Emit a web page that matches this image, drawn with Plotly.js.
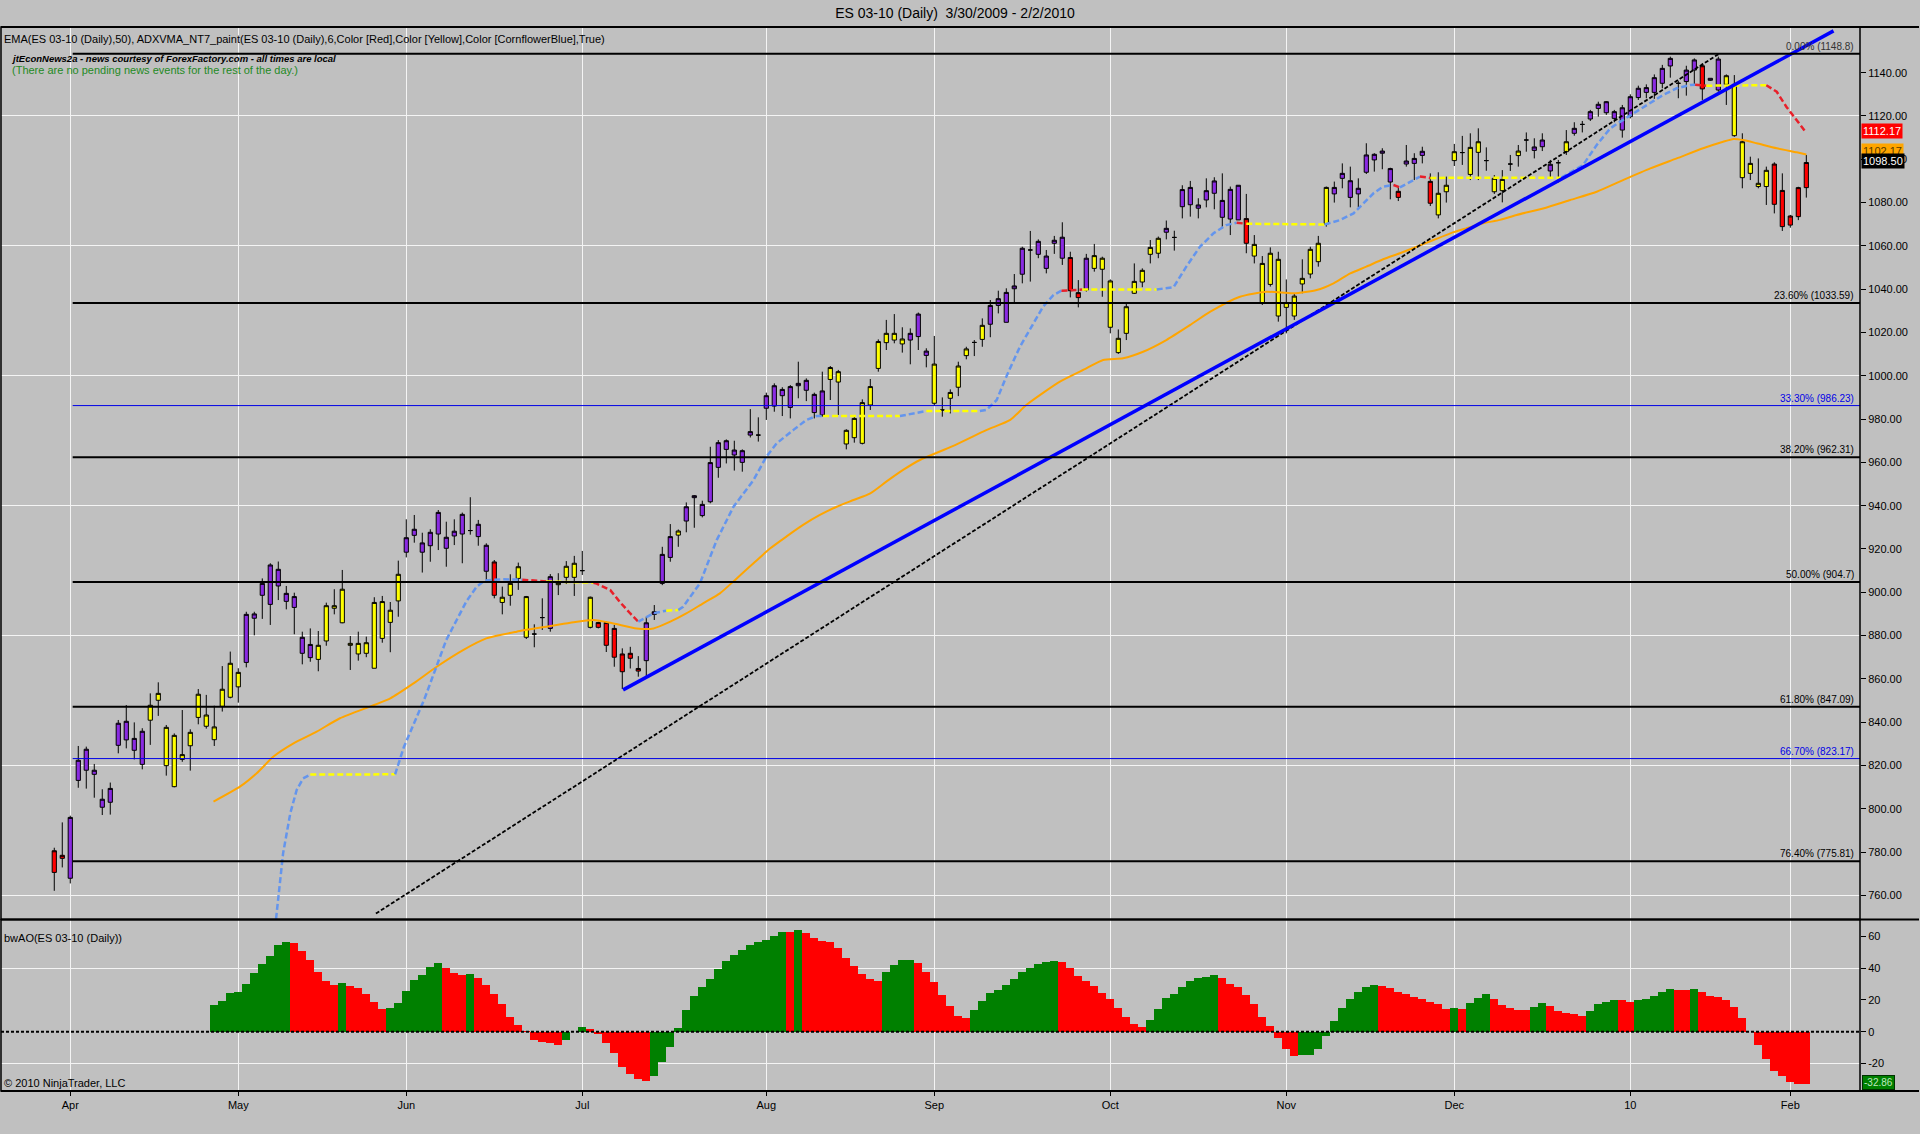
<!DOCTYPE html>
<html><head><meta charset="utf-8">
<script src="https://cdn.plot.ly/plotly-3.0.1.min.js"></script>
<style>html,body{margin:0;padding:0;background:#c0c0c0;}#chart{width:1920px;height:1134px;}</style>
</head><body><div id="chart"></div>
<script>
// ---------- DATA ----------
// bar index 0 = 3/30/2009 ... 219 = last bar
const HIGH = [
782.0,793.7,796.8,829.0,828.7,820.7,809.0,812.1,841.0,847.9,
839.9,837.2,853.3,858.4,838.7,834.8,845.6,836.7,855.3,852.6,
847.6,865.9,872.6,864.9,891.0,891.0,906.4,913.4,914.2,902.9,
899.8,881.8,883.3,882.1,895.2,901.4,910.3,879.8,881.8,879.5,
897.7,898.3,895.5,914.6,933.7,935.7,927.5,929.1,938.0,932.6,
933.7,936.8,943.9,933.4,922.6,914.9,902.6,908.3,913.7,898.3,
885.2,897.2,908.4,908.8,914.4,916.8,919.1,898.0,886.4,886.4,
884.9,874.1,874.8,870.5,888.7,894.1,921.0,931.5,929.0,941.5,
944.9,942.3,967.2,970.3,970.6,970.0,966.0,984.6,980.8,992.2,
996.5,994.7,995.7,1006.5,998.8,992.2,1001.9,1004.5,1002.7,975.3,
981.1,989.1,998.5,1016.8,1025.8,1028.5,1022.4,1021.9,1029.2,1012.7,
1018.4,990.0,993.7,1006.5,1013.4,1016.5,1026.5,1035.0,1039.3,1040.4,
1047.0,1059.6,1066.9,1063.0,1058.1,1064.6,1070.9,1057.3,1044.2,1056.3,
1060.9,1055.0,1044.5,1021.4,1033.2,1051.9,1049.6,1062.7,1064.3,1071.7,
1067.0,1088.0,1090.0,1082.0,1091.2,1091.7,1093.5,1087.4,1088.1,1084.0,
1065.0,1055.3,1059.3,1057.3,1044.5,1038.1,1053.8,1059.6,1064.6,1087.4,
1089.7,1098.1,1096.6,1091.2,1107.4,1102.8,1105.1,1096.1,1087.4,1106.6,
1102.8,1105.8,1093.5,1094.0,1092.0,1107.1,1110.8,1112.0,1114.3,1105.5,
1092.7,1095.0,1102.0,1106.6,1112.4,1109.7,1112.0,1099.7,1099.7,1113.5,
1117.1,1117.7,1122.8,1126.6,1126.9,1122.8,1125.1,1130.0,1134.0,1134.6,
1139.2,1143.6,1147.4,1136.2,1143.2,1146.6,1144.3,1137.4,1147.4,1139.2,
1138.9,1112.0,1101.2,1100.4,1096.6,1098.6,1093.5,1074.3,1087.3,1102.0];
const LOW = [
762.1,772.9,765.5,809.7,809.3,805.1,797.1,797.3,825.6,827.9,
822.8,818.2,829.5,842.9,815.3,809.9,821.7,817.6,839.0,837.0,
829.0,844.9,851.0,849.0,865.3,880.1,887.7,884.9,896.4,892.1,
880.6,866.7,867.9,863.5,875.3,889.8,885.7,864.1,868.4,870.0,
864.9,876.7,872.3,888.7,916.1,922.9,909.1,914.1,919.5,911.8,
921.8,913.4,926.6,921.5,905.4,897.2,889.8,893.8,901.1,878.4,
874.6,882.6,881.8,898.7,903.8,898.3,908.0,883.3,883.3,872.4,
865.6,855.3,864.8,861.0,861.0,887.2,903.3,914.1,921.0,927.7,
929.8,934.6,941.1,952.9,959.5,956.2,955.7,971.5,969.6,979.6,
983.4,981.4,980.3,989.6,988.3,980.3,981.1,988.8,981.9,966.0,
969.1,968.3,984.2,1001.9,1011.9,1015.0,1010.7,1005.3,1011.9,1003.9,
986.2,981.1,982.6,990.6,1007.6,1009.1,1013.4,1017.8,1028.8,1024.7,
1033.5,1042.7,1043.5,1054.3,1047.3,1056.3,1051.2,1036.2,1031.6,1038.9,
1048.1,1036.5,1019.6,1010.1,1016.5,1037.8,1040.9,1051.9,1054.3,1063.0,
1057.8,1072.7,1073.5,1072.7,1077.8,1076.9,1068.1,1065.0,1072.0,1056.6,
1051.9,1032.7,1041.2,1025.0,1019.6,1025.8,1038.1,1045.0,1050.4,1068.9,
1080.0,1086.6,1077.8,1077.8,1093.2,1094.3,1095.4,1081.5,1080.7,1096.6,
1090.4,1098.1,1078.4,1072.7,1080.0,1096.9,1097.4,1090.4,1090.4,1094.7,
1084.0,1080.1,1094.6,1096.6,1103.5,1100.4,1103.8,1091.2,1089.3,1102.0,
1110.9,1112.4,1117.7,1119.7,1120.5,1117.1,1110.0,1118.9,1127.4,1128.2,
1127.9,1132.8,1137.7,1128.2,1129.4,1134.3,1127.4,1136.2,1131.2,1125.1,
1110.4,1086.6,1090.4,1086.6,1078.9,1075.0,1066.9,1068.4,1071.9,1082.3];
// candle bodies: upper and lower edge (direction is not visible, bodies are painted by trend)
const BODY_HI = [
780.6,778.5,796.0,822.4,827.5,817.8,804.4,809.4,839.5,840.4,
832.5,835.8,847.8,853.3,837.6,833.9,825.0,835.3,852.9,843.3,
837.8,855.2,867.2,863.0,889.8,890.0,904.1,912.6,910.6,899.5,
898.0,879.2,875.9,875.5,893.8,893.8,901.4,876.4,876.4,876.7,
895.3,895.7,891.7,908.3,925.2,929.1,922.8,927.7,936.9,925.4,
928.2,936.0,928.5,931.4,921.7,914.0,897.7,904.1,911.8,898.0,
880.7,888.3,907.2,904.3,912.0,913.4,910.0,897.7,886.0,886.0,
883.3,871.5,871.8,864.8,885.9,891.0,917.5,925.7,928.3,939.5,
944.6,940.6,959.9,969.1,970.0,965.7,965.4,974.2,972.6,990.8,
995.4,993.7,995.0,996.5,997.9,991.4,993.0,1003.8,1001.9,974.8,
980.3,987.6,995.0,1015.8,1019.6,1019.6,1017.0,1019.6,1028.5,1011.4,
1005.4,984.2,992.3,1004.5,1012.4,1015.4,1023.3,1032.5,1035.6,1038.5,
1041.5,1058.9,1058.1,1062.1,1055.3,1062.6,1064.0,1054.6,1038.4,1054.3,
1055.5,1054.3,1043.8,1017.3,1031.9,1043.6,1048.7,1059.3,1063.5,1068.1,
1063.9,1086.0,1087.0,1078.9,1085.5,1090.0,1081.0,1086.1,1088.0,1072.6,
1060.7,1051.9,1056.6,1053.8,1033.8,1036.8,1045.0,1058.4,1061.2,1087.0,
1087.0,1093.5,1090.1,1086.6,1102.0,1102.3,1103.8,1095.7,1085.2,1099.2,
1100.4,1103.7,1089.8,1084.3,1088.0,1103.5,1103.1,1105.5,1108.1,1099.4,
1091.2,1090.7,1097.8,1103.8,1108.9,1105.7,1108.9,1097.7,1098.4,1108.1,
1114.3,1116.1,1122.0,1125.4,1126.6,1122.0,1123.8,1128.9,1132.8,1133.1,
1137.7,1142.0,1146.6,1135.1,1141.2,1145.9,1143.2,1137.4,1146.3,1138.6,
1134.6,1108.1,1098.1,1088.9,1094.9,1097.8,1085.6,1073.8,1086.9,1098.5];
const BODY_LO = [
770.6,777.1,767.9,813.1,817.8,815.9,800.7,803.0,829.3,831.8,
827.0,820.5,840.9,850.1,819.9,810.2,822.8,829.1,842.2,838.1,
831.9,847.3,851.5,856.3,867.6,888.0,898.6,894.4,902.9,895.8,
893.0,871.8,869.8,869.0,877.5,892.6,885.9,875.5,871.5,871.8,
864.9,878.7,886.1,896.0,918.5,926.3,918.5,921.5,926.9,920.3,
926.0,926.9,928.5,925.7,909.7,898.6,895.3,898.6,906.4,879.2,
880.7,888.3,883.3,903.5,906.9,906.9,910.0,883.8,883.8,875.5,
870.0,863.3,869.5,863.6,868.4,889.8,904.1,916.1,926.4,932.9,
943.7,935.4,941.8,957.7,966.0,963.4,960.0,972.6,972.6,985.0,
986.0,990.8,985.4,995.4,993.3,983.0,981.9,998.3,997.1,968.5,
971.4,968.8,986.5,1003.4,1015.3,1016.5,1014.7,1016.5,1018.1,1009.4,
987.3,984.2,989.6,994.7,1009.3,1015.4,1016.8,1023.8,1032.5,1024.7,
1040.2,1046.9,1058.1,1056.1,1049.6,1061.2,1054.3,1039.3,1036.1,1039.6,
1049.6,1049.2,1022.4,1010.7,1019.6,1038.1,1043.3,1056.1,1056.6,1066.3,
1063.9,1078.1,1079.0,1077.4,1081.2,1084.3,1073.2,1072.4,1072.0,1061.2,
1055.3,1033.5,1042.2,1027.6,1031.6,1027.6,1042.4,1047.0,1052.7,1070.1,
1084.0,1091.2,1082.4,1084.0,1094.0,1099.7,1102.8,1089.5,1082.4,1097.8,
1098.1,1101.8,1079.7,1074.3,1085.0,1099.4,1103.1,1093.0,1103.2,1099.4,
1085.0,1085.5,1097.8,1101.7,1108.9,1104.1,1105.8,1094.6,1098.4,1103.5,
1112.0,1116.1,1118.6,1123.5,1121.5,1118.9,1113.5,1119.7,1128.5,1130.9,
1130.9,1135.1,1143.1,1135.1,1135.9,1141.2,1132.5,1136.5,1132.0,1134.6,
1110.9,1091.5,1093.5,1087.4,1087.4,1079.2,1068.9,1069.6,1073.5,1086.9];
// bar paint colour per bar: P = violet (rising), Y = yellow (flat), R = red (falling)
const CANDLE_PAINT = (
 "RRPPPPPPPPPP" + "YYYYYYYYYYYY" + "PPPPPPPPP" + "YYYYYYYYYYY" + "PPPPPPPPPPP" +
 "R" + "YYYYYY" + "P" + "YYYYY" + "RRRRRR" + "PPPP" + "Y" + "PPPPPPPPPPPPPPPPPP" +
 "YYYYYYYYYY" + "PPP" + "YYYYYYY" + "PPPPPPPPPP" + "RR" + "P" + "YYYYYYYYY" +
 "PPPPPPPPPP" + "R" + "YYYYYYYYYY" + "PPPPPPPP" + "R" + "PPP" + "R" + "YYYYYYYYY" +
 "P" + "Y" + "PPPPP" + "Y" + "PPPPPPPPPPPPPPPP" + "R" + "PP" + "YYYYYY" + "RRRRR").split("");

// EMA(50) line
const EMA_X = [19.9,23.2,25.3,27.4,29.9,32.8,35.7,42.0,44.9,47.8,51.1,54.0,57.8,61.5,64.5,67.4,69.9,72.8,74.9,77.0,79.0,81.1,83.2,85.3,87.4,89.5,91.5,93.6,95.7,97.8,99.9,102.0,104.0,106.1,108.2,112.3,116.5,119.5,121.5,125.7,129.0,131.1,133.6,136.1,139.0,142.0,144.5,148.2,151.5,154.9,157.8,159.9,162.0,164.0,166.1,168.2,170.3,172.4,174.5,176.5,178.6,180.7,182.8,186.1,189.5,192.8,196.1,199.5,202.8,206.1,208.6,209.9,211.1,212.8,215.3,217.8,219.0];
const EMA_Y = [803.3,810.2,816.4,824.1,830.2,835.6,841.8,851.0,857.9,865.6,873.3,878.7,881.8,884.1,885.9,887.2,885.6,883.3,883.3,886.4,890.2,894.9,899.5,906.4,913.4,920.3,925.7,931.1,935.7,939.5,942.6,945.7,951.1,956.5,961.1,967.5,974.9,979.6,986.5,997.3,1003.4,1007.3,1008.1,1011.1,1016.5,1023.5,1029.6,1036.5,1038.8,1038.1,1039.6,1042.7,1047.3,1050.4,1053.8,1056.6,1059.6,1062.7,1065.8,1068.1,1070.4,1072.0,1074.3,1077.3,1081.2,1085.0,1090.4,1095.8,1100.4,1105.1,1108.1,1109.4,1108.9,1107.4,1105.1,1103.2,1102.2];

// ADXVMA line; code = colour of the stretch that starts at the point
const ADX_X = [27.6,28.6,29.5,30.3,31.1,32.0,42.6,43.7,46.3,47.8,49.0,50.3,51.5,52.8,53.8,56.0,58.5,61.5,67.4,67.8,69.5,70.7,72.0,73.0,74.9,76.5,78.0,78.6,80.7,82.8,84.9,87.4,89.0,90.3,92.4,94.0,95.3,96.1,105.7,108.2,109.0,115.7,116.5,117.8,119.0,120.7,122.4,123.6,124.9,125.9,128.5,137.8,139.9,141.5,143.2,144.9,146.5,147.8,149.0,158.8,160.7,162.4,163.6,164.9,166.1,167.4,168.2,169.5,170.7,172.0,188.4,191.1,192.8,194.5,196.1,197.8,199.5,201.1,202.8,204.5,205.1,206.5,214.0,215.3,216.5,217.8,219.0];
const ADX_Y = [745.0,779.4,797.9,808.7,814.0,815.8,815.9,828.5,851.0,865.6,878.0,887.2,895.7,902.6,905.4,906.0,905.8,905.0,904.4,904.0,901.0,895.5,890.2,886.4,890.3,891.5,891.8,893.3,904.1,924.1,939.5,951.8,962.6,968.8,975.0,979.6,981.4,981.4,981.4,983.4,983.7,983.7,984.2,988.8,999.6,1013.4,1024.2,1031.9,1037.3,1039.3,1039.8,1039.9,1040.9,1050.4,1059.6,1065.8,1069.6,1070.7,1070.2,1069.9,1071.9,1075.0,1079.7,1084.3,1087.4,1088.1,1087.0,1089.7,1092.0,1091.4,1091.5,1097.4,1106.6,1114.3,1118.2,1122.0,1125.8,1129.7,1132.8,1134.3,1134.4,1134.0,1134.2,1131.2,1124.3,1118.2,1112.2];
const ADX_CODE = ("BBBBBYBBBBBBBBBBRYRRRRRBBYBBBBBBBBBBBYBBYBBBBBBBBRYBBBBBBRYBBBBBBRBBRYBBBBBBBBBBRYRRRRR").split("");

// Awesome Oscillator histogram, first value at bar 20
const AO_START = 20;
const AO_VALUES = [
16.8,19.4,24.4,25.1,30.1,37.1,42.7,47.8,54.7,56.8,
56.0,51.2,45.3,37.7,32.0,29.5,30.5,28.8,27.8,23.8,
18.7,14.3,14.9,18.1,25.7,32.6,35.8,40.8,43.4,40.2,
37.3,35.9,36.2,34.1,29.5,23.8,17.5,9.5,4.4,0.4,
-5.1,-6.3,-7.4,-8.4,-5.1,-0.3,2.9,1.5,-1.7,-6.9,
-13.3,-22.1,-26.7,-30.1,-30.9,-28.0,-19.4,-9.5,2.1,13.5,
22.5,28.2,33.3,39.6,44.6,48.4,51.6,54.7,56.4,57.9,
60.4,63.1,62.9,64.2,62.5,59.4,57.3,56.4,52.6,46.3,
41.7,36.6,33.1,32.0,37.9,42.1,45.2,45.4,43.6,37.9,
31.6,23.2,16.2,9.9,8.4,13.7,19.4,24.2,26.3,29.5,
33.3,37.9,40.4,42.7,43.8,44.8,43.8,40.0,35.2,32.0,
28.8,24.2,20.6,14.7,9.1,4.6,3.2,7.4,14.1,21.1,
23.6,28.2,32.0,33.7,34.5,35.8,34.1,29.9,28.2,23.2,
17.3,9.3,3.6,-3.8,-10.9,-15.2,-14.8,-14.5,-10.9,-2.5,
6.7,14.7,20.6,24.8,28.2,29.5,29.1,27.4,25.3,23.8,
22.1,20.6,18.9,17.7,14.3,14.7,14.5,17.9,21.5,23.8,
20.6,16.8,15.2,13.7,13.5,15.8,17.9,16.2,13.1,11.6,
10.9,10.1,13.1,17.3,18.9,19.8,19.7,18.9,19.8,20.6,
22.5,25.3,26.9,26.1,26.0,26.7,24.8,22.7,21.9,20.0,
15.6,8.4,-0.3,-8.4,-17.3,-24.8,-28.0,-31.6,-33.3,-32.9];
const AO_PAINT = (
 "GGGGGGGGGG" + "RRRRRR" + "G" + "RRRRR" + "GGGGGGG" + "RRR" + "G" + "RRRRRRRRRRR" +
 "GGG" + "RRRRRRRR" + "GGGGGGGGGGGGGGGGG" + "R" + "G" + "RRRRRRRRRR" + "GGGG" +
 "RRRRRRR" + "GGGGGGGGGGG" + "RRRRRRRRRRR" + "GGGGGGGGG" + "RRRRRRRRRR" + "GGGGGGGGGG" +
 "RRRRRRRRR" + "G" + "R" + "GGG" + "RRRRR" + "GG" + "RRRRR" + "GGGG" + "RR" + "GGGGG" +
 "RR" + "G" + "RRRRRRRRRRRRRR").split("");

// hand-drawn objects
const BLUE_TREND_X = [71.1, 222.4];
const BLUE_TREND_Y = [854.9, 1159.3];
const BLACK_TREND_X = [40.2, 208.2];
const BLACK_TREND_Y = [751.6, 1149.0];
const FIB_LEVELS = [1148.8, 1033.59, 986.23, 962.31, 904.7, 847.09, 823.17, 775.81];
const FIB_LABELS = ["0.00% (1148.8)", "23.60% (1033.59)", "33.30% (986.23)", "38.20% (962.31)", "50.00% (904.7)", "61.80% (847.09)", "66.70% (823.17)", "76.40% (775.81)"];
const FIB_KIND = ["main", "main", "minor", "main", "main", "main", "minor", "main"];
const FIB_START = [2.3, 2.3, 2.3, 2.3, 2.3, 2.3, 2.3, 2.3];

// axes
const MONTH_IDX = [2, 23, 44, 66, 89, 110, 132, 154, 175, 197, 217];
const MONTH_LABELS = ["Apr", "May", "Jun", "Jul", "Aug", "Sep", "Oct", "Nov", "Dec", "10", "Feb"];
const PRICE_TICKS = [760,780,800,820,840,860,880,900,920,940,960,980,1000,1020,1040,1060,1080,1100,1120,1140];
const PRICE_GRID = [760, 820, 880, 940, 1000, 1060, 1120];
const AO_TICKS = [-20, 0, 20, 40, 60];
const AO_GRID = [-20, 40];
const LAST_VALUES = [
  {v: 1112.17, text: "1112.17", bg: "#ff0000", fg: "#ffffff", shift: 2},
  {v: 1102.17, text: "1102.17", bg: "#ffa500", fg: "#5a3a00", shift: 4},
  {v: 1098.50, text: "1098.50", bg: "#000000", fg: "#ffffff", shift: 2}
];
const AO_LAST = {v: -32.86, text: "-32.86"};

// ---------- STYLE ----------
const BG = "#c0c0c0", GRID = "#f4f4f4";
const PAINT = {P: "#8a2be2", Y: "#ffff00", R: "#ff0000"};
const ADX_COL = {B: "#6495ed", Y: "#ffff00", R: "#e8202a"};
const AO_COL = {G: "#008000", R: "#ff0000"};
const NARROW = "Liberation Sans Narrow, Arial Narrow, Liberation Sans, Arial, sans-serif";
const SANS = "Liberation Sans, Arial, sans-serif";
const X_MIN = -6.66, X_MAX = 225.71;
const SPLIT = (1091 - 919.6) / 1064;

const traces = [];

// EMA
traces.push({type: "scatter", mode: "lines", x: EMA_X, y: EMA_Y, line: {color: "#ffa500", width: 2, shape: "spline", smoothing: 0.6}, hoverinfo: "skip", xaxis: "x", yaxis: "y"});

// ADXVMA coloured dashed stretches
(function () {
  let start = 0;
  for (let i = 1; i <= ADX_X.length; i++) {
    if (i === ADX_X.length || ADX_CODE[i] !== ADX_CODE[start]) {
      const end = Math.min(i, ADX_X.length - 1);
      traces.push({type: "scatter", mode: "lines", x: ADX_X.slice(start, end + 1), y: ADX_Y.slice(start, end + 1),
        line: {color: ADX_COL[ADX_CODE[start]], width: 2.5, dash: "6px,3px"}, hoverinfo: "skip", xaxis: "x", yaxis: "y"});
      start = i;
    }
  }
})();

// candles, one trace per paint colour
["P", "Y", "R"].forEach(function (c) {
  const idx = [];
  for (let i = 0; i < HIGH.length; i++) if (CANDLE_PAINT[i] === c) idx.push(i);
  const side = {line: {color: "#000000", width: 1}, fillcolor: PAINT[c]};
  traces.push({type: "candlestick", x: idx,
    open: idx.map(i => BODY_LO[i]), close: idx.map(i => BODY_HI[i]),
    high: idx.map(i => HIGH[i]), low: idx.map(i => LOW[i]),
    increasing: side, decreasing: side, whiskerwidth: 0, hoverinfo: "skip", xaxis: "x", yaxis: "y"});
});

// trend lines
traces.push({type: "scatter", mode: "lines", x: BLACK_TREND_X, y: BLACK_TREND_Y, line: {color: "#000000", width: 1.8, dash: "4px,2px"}, hoverinfo: "skip", xaxis: "x", yaxis: "y"});
traces.push({type: "scatter", mode: "lines", x: BLUE_TREND_X, y: BLUE_TREND_Y, line: {color: "#0000ff", width: 3.5}, hoverinfo: "skip", xaxis: "x", yaxis: "y"});

// AO histogram
traces.push({type: "bar", x: AO_VALUES.map((v, i) => AO_START + i), y: AO_VALUES, width: 1,
  marker: {color: AO_PAINT.map(c => AO_COL[c]), line: {width: 0}}, hoverinfo: "skip", xaxis: "x", yaxis: "y2"});

// ---------- SHAPES & TEXT ----------
const shapes = [];
const annotations = [];
FIB_LEVELS.forEach(function (lv, k) {
  const main = FIB_KIND[k] === "main";
  shapes.push({type: "line", xref: "x", yref: "y", x0: FIB_START[k], x1: X_MAX, y0: lv, y1: lv,
    line: {color: main ? "#000000" : "#0000e6", width: main ? 2 : 1}, layer: "above"});
  annotations.push({xref: "paper", yref: "y", x: 0.9979, y: lv, xanchor: "right", yanchor: "bottom", showarrow: false,
    text: FIB_LABELS[k], font: {family: SANS, size: 10, color: main ? (k === 0 ? "#333333" : "#000000") : "#0000e6"}});
});
// AO zero line
shapes.push({type: "line", xref: "paper", yref: "y2", x0: 0, x1: 1, y0: 0, y1: 0, line: {color: "#000000", width: 2, dash: "3px,2px"}, layer: "above"});
// panel frames
const FULL = (1919 - 1) / 1859;
shapes.push({type: "rect", xref: "paper", yref: "paper", x0: 0, x1: 1, y0: SPLIT, y1: 1, line: {color: "#000000", width: 1.5}, layer: "above"});
shapes.push({type: "rect", xref: "paper", yref: "paper", x0: 0, x1: 1, y0: 0, y1: SPLIT, line: {color: "#000000", width: 1.5}, layer: "above"});
[1, SPLIT, 0].forEach(function (yy) {
  shapes.push({type: "line", xref: "paper", yref: "paper", x0: 0, x1: FULL, y0: yy, y1: yy, line: {color: "#000000", width: 2}, layer: "above"});
});

// last value tags
LAST_VALUES.forEach(function (t) {
  annotations.push({xref: "paper", yref: "y", x: 1, y: t.v, xanchor: "left", yanchor: "middle", xshift: 1, yshift: t.shift,
    showarrow: false, text: t.text, bgcolor: t.bg, borderpad: 1, font: {family: SANS, size: 11, color: t.fg}});
});
annotations.push({xref: "paper", yref: "y2", x: 1, y: AO_LAST.v, xanchor: "left", yanchor: "middle", xshift: 2, yshift: 1,
  showarrow: false, text: AO_LAST.text, bgcolor: "#008000", bordercolor: "#003300", borderwidth: 1, borderpad: 1,
  font: {family: SANS, size: 10, color: "#bfe8bf"}});

// panel texts
function py(px) { return (1091 - px) / 1064; }
annotations.push({xref: "paper", yref: "paper", x: 0, y: py(39), xanchor: "left", yanchor: "middle", xshift: 1, showarrow: false,
  text: "EMA(ES 03-10 (Daily),50), ADXVMA_NT7_paint(ES 03-10 (Daily),6,Color [Red],Color [Yellow],Color [CornflowerBlue],True)",
  font: {family: NARROW, size: 11, color: "#000000"}});
annotations.push({xref: "paper", yref: "paper", x: 0, y: py(58), xanchor: "left", yanchor: "middle", xshift: 8, showarrow: false,
  text: "<b><i>jtEconNews2a - news courtesy of ForexFactory.com - all times are local</i></b>",
  font: {family: NARROW, size: 9.5, color: "#000000"}});
annotations.push({xref: "paper", yref: "paper", x: 0, y: py(70), xanchor: "left", yanchor: "middle", xshift: 9, showarrow: false,
  text: "(There are no pending news events for the rest of the day.)",
  font: {family: NARROW, size: 11, color: "#1f8a1f"}});
annotations.push({xref: "paper", yref: "paper", x: 0, y: py(938), xanchor: "left", yanchor: "middle", xshift: 1, showarrow: false,
  text: "bwAO(ES 03-10 (Daily))", font: {family: NARROW, size: 11, color: "#000000"}});
annotations.push({xref: "paper", yref: "paper", x: 0, y: py(1083), xanchor: "left", yanchor: "middle", xshift: 1, showarrow: false,
  text: "© 2010 NinjaTrader, LLC", font: {family: NARROW, size: 11, color: "#000000"}});

const layout = {
  width: 1920, height: 1134,
  paper_bgcolor: BG, plot_bgcolor: BG,
  margin: {l: 1, r: 60, t: 27, b: 43, pad: 0},
  showlegend: false, boxgap: 0.25, bargap: 0,
  font: {family: SANS, size: 11, color: "#000000"},
  title: {text: "ES 03-10 (Daily)\u00a0\u00a03/30/2009 - 2/2/2010", x: 955 / 1920, xref: "container", xanchor: "center",
    y: 1 - 13 / 1134, yref: "container", yanchor: "middle", font: {family: SANS, size: 14, color: "#000000"}},
  xaxis: {range: [X_MIN, X_MAX], tickmode: "array", tickvals: MONTH_IDX, ticktext: MONTH_LABELS,
    showgrid: true, gridcolor: GRID, gridwidth: 1, zeroline: false, showline: false,
    ticks: "outside", ticklen: 4, tickcolor: "#000000", anchor: "y2", fixedrange: true,
    rangeslider: {visible: false}, tickfont: {family: SANS, size: 11}},
  yaxis: {domain: [SPLIT, 1], range: [748.8, 1161.1], side: "right", anchor: "x",
    tickmode: "array", tickvals: PRICE_TICKS, ticktext: PRICE_TICKS.map(v => v.toFixed(2)),
    showgrid: false, zeroline: false, showline: false, ticks: "outside", ticklen: 5, tickcolor: "#000000",
    minor: {tickmode: "array", tickvals: PRICE_GRID, showgrid: true, gridcolor: GRID, gridwidth: 1, ticks: ""},
    tickfont: {family: SANS, size: 11}, fixedrange: true},
  yaxis2: {domain: [0, SPLIT], range: [-37.4, 70.7], side: "right", anchor: "x",
    tickmode: "array", tickvals: AO_TICKS, ticktext: AO_TICKS.map(String),
    showgrid: false, zeroline: false, showline: false, ticks: "outside", ticklen: 5, tickcolor: "#000000",
    minor: {tickmode: "array", tickvals: AO_GRID, showgrid: true, gridcolor: GRID, gridwidth: 1, ticks: ""},
    tickfont: {family: SANS, size: 11}, fixedrange: true},
  shapes: shapes,
  annotations: annotations
};

Plotly.newPlot("chart", traces, layout, {displayModeBar: false, staticPlot: true});
</script>
</body></html>
